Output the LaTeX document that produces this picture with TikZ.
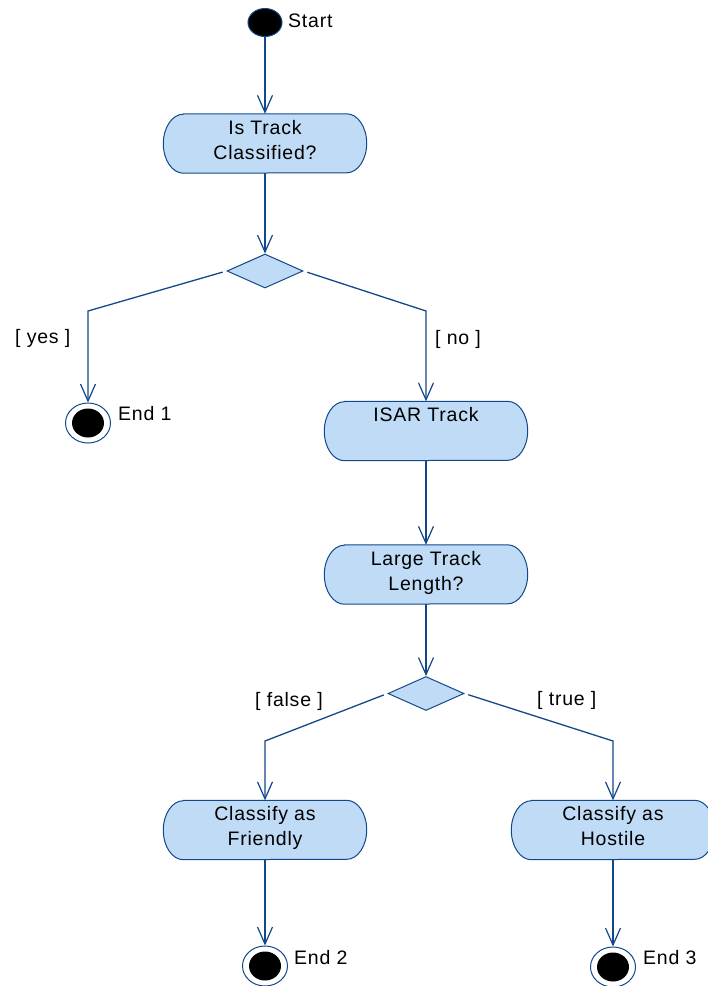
\documentclass[tikz,border=0pt]{standalone}
\usepackage{fontspec}
\setmainfont{Liberation Sans}[LetterSpace=4]
\usetikzlibrary{shapes.geometric,arrows.meta}
\definecolor{umlline}{RGB}{18,72,138}
\definecolor{umlfill}{RGB}{191,219,245}

\tikzset{
  flow/.style={draw=umlline, line width=1.3pt,
    -{Straight Barb[length=17pt,width=15pt,line width=1.2pt]}},
  branch/.style={flow, shorten <=4pt},
  actnode/.style={rectangle, minimum width=203pt, minimum height=59pt, inner sep=0pt},
  acttext/.style={anchor=north, inner sep=0pt, align=center,
    font=\fontsize{19.5}{25}\selectfont},
  decision/.style={diamond, draw=umlline, fill=umlfill, line width=1pt,
    minimum width=76pt, minimum height=34pt, inner sep=0pt},
  initial/.style={ellipse, draw=umlline, fill=black, line width=1pt,
    minimum width=34pt, minimum height=28pt, inner sep=0pt},
  final/.style={ellipse, draw=umlline, line width=1pt,
    minimum width=45pt, minimum height=40pt, inner sep=0pt,
    path picture={\fill[black] (path picture bounding box.center)
      ellipse [x radius=16pt, y radius=14.5pt];}},
  lbl/.style={anchor=base west, inner sep=0pt, font=\fontsize{19.5}{25}\selectfont},
}

% rounded action outline drawn around a named (invisible) rectangle node
\newcommand\actionoutline[1]{%
  \filldraw[draw=umlline, fill=umlfill, line width=1pt]
    ([xshift=20pt]#1.north west) -- ([xshift=-20pt]#1.north east)
    arc[start angle=90, end angle=-90, x radius=20pt, y radius=29.5pt]
    -- ([xshift=20pt]#1.south west)
    arc[start angle=270, end angle=90, x radius=20pt, y radius=29.5pt] -- cycle;}

\begin{document}
\begin{tikzpicture}[x=1pt,y=1pt]
\useasboundingbox (0,0) rectangle (708,-986);

% initial state
\node[initial] (start) at (265,-22.5) {};
\node[lbl] (startl) at (288,-27) {Start};

% actions
\node[actnode] (a1) at (265,-143.5) {};
\actionoutline{a1}
\node[acttext] (a1t) at ([yshift=-6pt]a1.north) {Is Track\\Classified?};

\node[actnode] (a2) at (426,-431) {};
\actionoutline{a2}
\node[acttext] (a2t) at ([yshift=-6pt]a2.north) {ISAR Track};

\node[actnode] (a3) at (426,-574.5) {};
\actionoutline{a3}
\node[acttext] (a3t) at ([yshift=-6pt]a3.north) {Large Track\\Length?};

\node[actnode] (a4) at (265,-830) {};
\actionoutline{a4}
\node[acttext] (a4t) at ([yshift=-6pt]a4.north) {Classify as\\Friendly};

\node[actnode] (a5) at (613,-830) {};
\actionoutline{a5}
\node[acttext] (a5t) at ([yshift=-6pt]a5.north) {Classify as\\Hostile};

% decisions
\node[decision] (d1) at (265,-271) {};
\node[decision] (d2) at (426,-693.5) {};

% final states
\node[final] (end1) at (88,-423) {};
\node[lbl] (end1l) at (118,-420) {End 1};
\node[final] (end2) at (265,-966) {};
\node[lbl] (end2l) at (294,-964) {End 2};
\node[final] (end3) at (613,-967) {};
\node[lbl] (end3l) at (643,-964) {End 3};

% bend points of the guarded flows
\coordinate (c1) at (88,-311);
\coordinate (c2) at (426,-311);
\coordinate (c3) at (265,-741);
\coordinate (c4) at (613,-741);

% flows
\draw[flow] (start) -- (a1);
\draw[flow] (a1) -- (d1);
\draw[branch] (d1.west) -- (c1) -- (end1);
\draw[branch] (d1.east) -- (c2) -- (a2);
\draw[flow] (a2) -- (a3);
\draw[flow] (a3) -- (d2);
\draw[branch] (d2.west) -- (c3) -- (a4);
\draw[branch] (d2.east) -- (c4) -- (a5);
\draw[flow] (a4) -- (end2);
\draw[flow] (a5) -- (end3);

% guards
\node[lbl] (gyes) at (15,-343) {[ yes ]};
\node[lbl] (gno) at (435,-344) {[ no ]};
\node[lbl] (gfalse) at (255,-706) {[ false ]};
\node[lbl] (gtrue) at (537,-705) {[ true ]};
\end{tikzpicture}
\end{document}
